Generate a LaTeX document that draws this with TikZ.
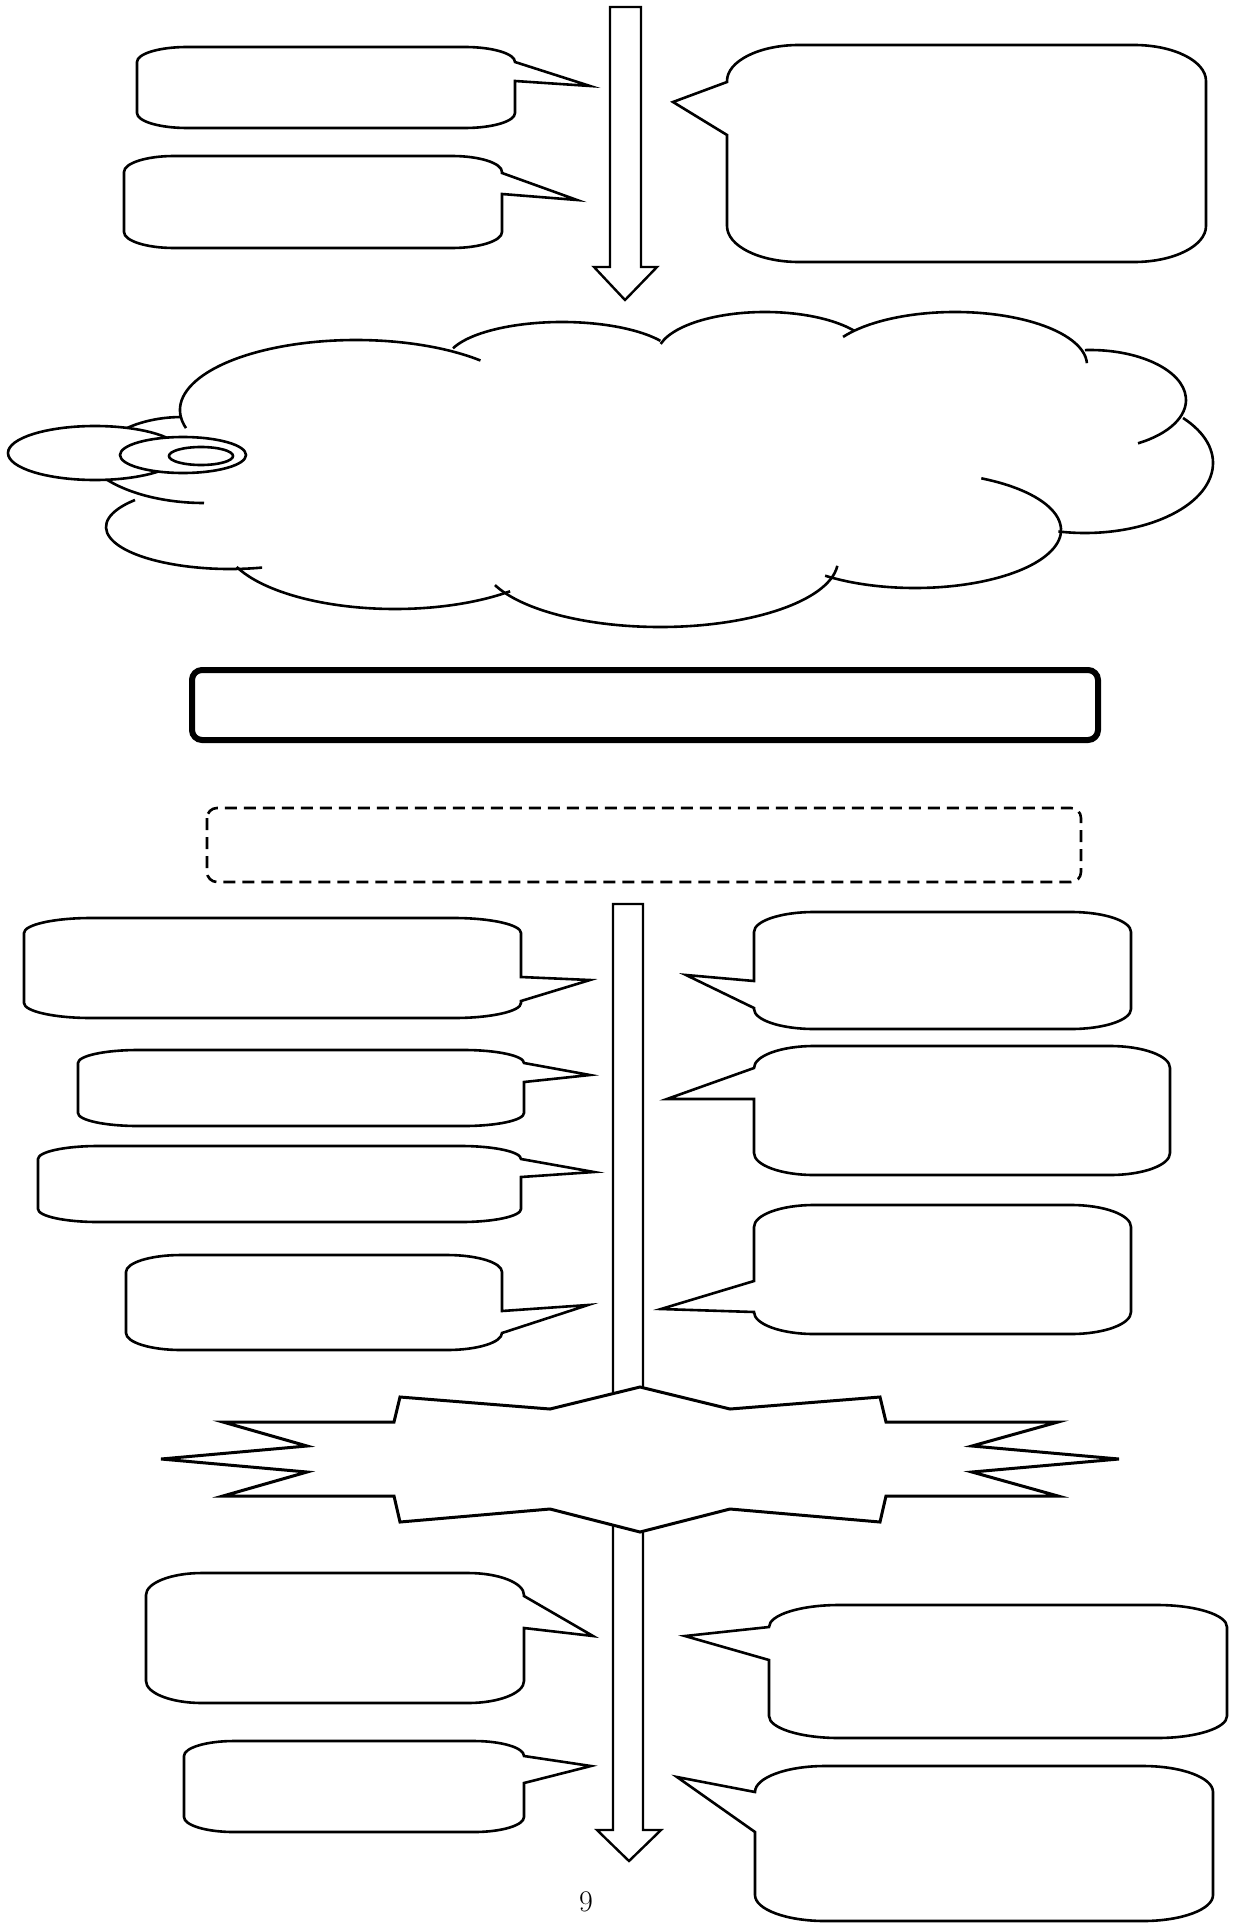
\documentclass[tikz,border=0pt]{standalone}
\usepackage{tikz}
\tikzset{
    inkline/.style={draw=black, line width=1.3pt},
    bubble/.style={inkline, fill=white, line join=miter},
    flowarrow/.style={inkline, line width=1.2pt, fill=white, line join=miter},
    burst/.style={inkline, line width=1.5pt, fill=white, line join=miter},
}
% speech bubbles: left, top, right, bottom, x radius, y radius, upper joint, tip, lower joint
\newcommand{\rbubble}[9]{%
  \draw[bubble] (#1+#5,#2) -- (#3-#5,#2)
    arc[start angle=270, end angle=360, x radius=#5, y radius=#6]
    -- (#3,#7) -- (#8) -- (#3,#9) -- (#3,#4-#6)
    arc[start angle=0, end angle=90, x radius=#5, y radius=#6]
    -- (#1+#5,#4)
    arc[start angle=90, end angle=180, x radius=#5, y radius=#6]
    -- (#1,#2+#6)
    arc[start angle=180, end angle=270, x radius=#5, y radius=#6] -- cycle;}
\newcommand{\lbubble}[9]{%
  \draw[bubble] (#1+#5,#2) -- (#3-#5,#2)
    arc[start angle=270, end angle=360, x radius=#5, y radius=#6]
    -- (#3,#4-#6)
    arc[start angle=0, end angle=90, x radius=#5, y radius=#6]
    -- (#1+#5,#4)
    arc[start angle=90, end angle=180, x radius=#5, y radius=#6]
    -- (#1,#9) -- (#8) -- (#1,#7) -- (#1,#2+#6)
    arc[start angle=180, end angle=270, x radius=#5, y radius=#6] -- cycle;}
\newcommand{\lobe}[6]{%
  \draw[inkline] (#1,#2) ++(#5:#3 and #4) arc[start angle=#5, end angle=#6, x radius=#3, y radius=#4];}

\begin{document}
\begin{tikzpicture}[x=0.5pt, y=-0.5pt,
  banner/.style={draw, line width=3pt, rounded corners=5pt},
  notebox/.style={draw, line width=1.3pt, dash pattern=on 6pt off 3.5pt, rounded corners=5pt},
  ring/.style={inkline, fill=white},
  pagefont/.style={font=\fontsize{15}{18}\selectfont, inner sep=0pt}
]
\useasboundingbox (0,0) rectangle (1234,1926);

\draw[flowarrow] (610,7) -- (641,7) -- (641,267) -- (657,267) -- (625,300) -- (594,267) -- (610,267) -- cycle;

\rbubble{137}{47}{515}{128}{50}{15}{62}{590,86}{81}
\rbubble{124}{156}{502}{248}{50}{16}{173}{577,200}{194}
\lbubble{727}{45}{1206}{262}{72}{36}{82}{673,102}{135}

\lobe{356}{410}{176}{70}{165}{315}
\lobe{562}{362}{116}{40}{200}{328}
\lobe{765}{355}{108}{43}{195}{326}
\lobe{955}{365}{132}{53}{212}{358}
\lobe{1090}{400}{96}{50}{267}{420}
\lobe{1085}{463}{128}{70}{-40}{102}
\lobe{915}{530}{146}{58}{-63}{128}
\lobe{660}{560}{178}{67}{5}{158}
\lobe{395}{540}{172}{69}{48}{157}
\lobe{230}{527}{124}{42}{75}{220}
\lobe{204}{440}{125}{63}{150}{90}
\lobe{182}{470}{90}{53}{225}{270}
\draw[ring] (95,453) ellipse[x radius=87, y radius=27];
\draw[ring] (183,455) ellipse[x radius=63, y radius=18];
\draw[ring] (201,456) ellipse[x radius=32, y radius=9];

\draw[banner] (192,670) rectangle (1098,740);
\draw[notebox] (207,808) rectangle (1081,882);

\draw[flowarrow] (613,904) -- (643,904) -- (643,1830) -- (661,1830) -- (629,1861) -- (597,1830) -- (613,1830) -- cycle;

\rbubble{24}{918}{521}{1018}{67}{15}{977}{590,980}{1001}
\rbubble{78}{1050}{524}{1126}{60}{13}{1063}{590,1075}{1082}
\rbubble{38}{1146}{521}{1222}{60}{13}{1159}{594,1172}{1177}
\rbubble{126}{1255}{502}{1350}{55}{17}{1311}{588,1305}{1333}
\lbubble{754}{912}{1131}{1029}{60}{20}{981}{686,975}{1008}
\lbubble{754}{1046}{1170}{1175}{60}{22}{1068}{667,1099}{1099}
\lbubble{754}{1205}{1131}{1334}{60}{22}{1281}{661,1309}{1312}

\draw[burst] (640,1387) -- (730,1409) -- (880,1397) -- (886,1422) -- (1058,1422) -- (972,1446)
  -- (1119,1459) -- (972,1472) -- (1058,1496) -- (886,1496) -- (880,1522) -- (730,1509)
  -- (640,1532) -- (550,1509) -- (400,1522) -- (394,1496) -- (223,1496) -- (307,1472)
  -- (161,1459) -- (307,1446) -- (223,1422) -- (394,1422) -- (400,1397) -- (550,1409) -- cycle;

\rbubble{146}{1573}{524}{1703}{56}{22}{1596}{593,1636}{1628}
\rbubble{184}{1741}{524}{1832}{50}{15}{1756}{591,1766}{1783}
\lbubble{769}{1605}{1227}{1738}{70}{22}{1627}{685,1636}{1660}
\lbubble{755}{1766}{1213}{1921}{70}{26}{1792}{677,1777}{1832}

\node[pagefont] (pagenum) at (586,1902) {9};
\end{tikzpicture}
\end{document}
